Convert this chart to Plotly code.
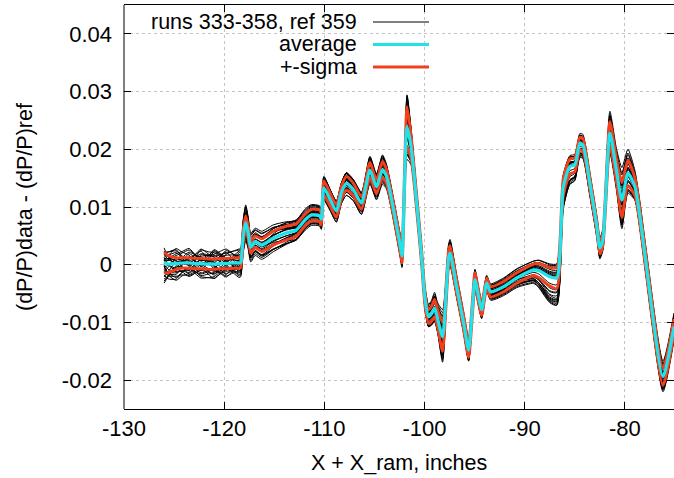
import numpy as np
import plotly.graph_objects as go

# Probe position, inches (X + X_ram)
x_in = [
    -126.0, -125.6, -124.8, -124.2, -123.5, -122.9, -122.3, -121.6, -121.0, -120.4,
    -119.8, -119.1, -118.5, -118.35,
    -118.1, -117.85, -117.6, -117.35, -116.9, -116.25, -115.1, -113.8, -112.8, -111.9,
    -111.3, -110.5, -110.3, -110.05, -109.4, -108.8, -108.3, -107.8, -107.1, -106.3,
    -105.45, -104.8, -104.2, -103.8, -102.4, -102.25, -101.75, -101.35, -100.8, -100.3,
    -99.95, -99.6, -99.3, -99.0, -98.7, -98.2, -97.6, -97.45, -96.8, -96.1,
    -95.6, -95.2, -94.97, -94.3, -93.8, -93.4, -92.1, -90.8, -89.1, -88.6,
    -87.5, -86.8, -86.15, -85.5, -85.0, -84.5, -84.2, -83.5, -82.8, -82.5,
    -82.2, -81.5, -80.85, -80.3, -79.7, -79.0, -78.5, -77.85, -76.2, -75.1,
]

# Average of (dP/P)data - (dP/P)ref over runs 333-358
avg_dpp = [
    0.0004, 0.0001, 0.0002, 0.0003, 0.0003, 0.0002, 0.0002, 0.0001, 0.0001, 0.0002,
    0.0002, 0.0003, 0.0003, 0.0004,
    0.0050, 0.0073, 0.0055, 0.0030, 0.0040, 0.0034, 0.0046, 0.0055, 0.0060, 0.0078,
    0.0086, 0.0085, 0.0079, 0.0133, 0.0112, 0.0093, 0.0125, 0.0141, 0.0130, 0.0107,
    0.0164, 0.0135, 0.0165, 0.0153, 0.0030, 0.0015, 0.0239, 0.0205, 0.0110, 0.0015,
    -0.0060, -0.0090, -0.0085, -0.0075, -0.0093, -0.0125, 0.0012, 0.0020, -0.0038, -0.0101,
    -0.0148, -0.0070, -0.0026, -0.0078, -0.0032, -0.0047, -0.0038, -0.0023, -0.0009, -0.0010,
    -0.0021, -0.0023, 0.0135, 0.0170, 0.0173, 0.0210, 0.0208, 0.0141, 0.0066, 0.0029,
    0.0043, 0.0228, 0.0164, 0.0112, 0.0159, 0.0135, 0.0083, -0.0003, -0.0194, -0.0107,
]

# Run-to-run standard deviation
sigma_dpp = [
    0.0018, 0.0015, 0.0010, 0.0009, 0.0009, 0.0009, 0.0009, 0.0009, 0.0009, 0.0009,
    0.0009, 0.0009, 0.0009, 0.0009,
    0.0011, 0.0012, 0.0011, 0.0010, 0.0010, 0.0011, 0.0012, 0.0012, 0.0011, 0.0010,
    0.0010, 0.0010, 0.0010, 0.0012, 0.0011, 0.0011, 0.0011, 0.0012, 0.0011, 0.0011,
    0.0013, 0.0012, 0.0014, 0.0012, 0.0012, 0.0012, 0.0035, 0.0020, 0.0013, 0.0012,
    0.0012, 0.0012, 0.0013, 0.0015, 0.0015, 0.0025, 0.0013, 0.0013, 0.0012, 0.0012,
    0.0013, 0.0012, 0.0012, 0.0010, 0.0009, 0.0009, 0.0009, 0.0009, 0.0010, 0.0012,
    0.0016, 0.0018, 0.0015, 0.0013, 0.0012, 0.0011, 0.0011, 0.0011, 0.0010, 0.0010,
    0.0010, 0.0020, 0.0020, 0.0030, 0.0022, 0.0015, 0.0014, 0.0014, 0.0015, 0.0013,
]

# Each run's departure from the average, in units of sigma, at these positions
run_anchor_x = [-126.0, -124.8, -123.5, -122.3, -121.0, -119.8, -118.5,
                -112.0, -105.0, -98.0, -91.0, -87.5, -82.0, -75.0]
run_offsets = [
    [0.3, -0.8, 1.8, 0.5, 2.6, 0.9, 1.2, 1.5, 1.6, 1.2, 1.4, 0.9, 1.5, 1.3],
    [-0.5, 0.6, -2.2, -0.9, -2.8, -1.0, -1.9, -1.4, -1.2, -1.5, -1.1, -2.6, -1.3, -1.6],
    [1.0, 2.2, 0.4, 1.9, 1.7, 0.2, 2.3, 0.8, 0.5, 0.9, 0.7, 0.4, 0.6, 0.9],
    [-1.2, -2.7, -0.8, -2.3, -1.6, -0.4, -2.5, -0.9, -0.7, -0.4, -0.6, -2.3, -0.8, -0.5],
    [0.0, 1.4, 2.5, 0.9, 0.6, 2.2, -0.8, 1.9, 1.1, 1.7, 0.2, 1.2, 1.9, 1.8],
    [-2.0, -0.4, -1.5, 0.8, -0.3, -2.1, 0.7, -1.8, -1.7, -1.1, -1.6, -2.7, -1.8, -1.2],
    [0.6, 1.9, -0.3, 2.6, 2.2, 0.4, 1.6, 0.3, 1.8, 0.4, 1.2, 0.8, 0.2, 0.4],
    [-0.7, -1.9, 1.2, -0.4, -2.1, 0.3, -1.4, -0.4, -0.3, -1.8, -0.2, -1.9, -0.4, -0.9],
    [1.4, -0.2, 0.9, 2.4, -0.9, 1.8, 2.7, 1.2, 0.2, 0.6, 1.7, 1.4, 1.1, 0.1],
    [-1.6, -0.9, -2.6, -1.1, -1.2, -2.6, -0.5, -1.1, -1.4, -0.8, -1.3, -2.4, -1.0, -1.9],
    [0.2, 2.6, 1.5, -0.6, 2.8, 1.1, 0.3, 0.6, 0.9, 1.4, 0.5, 0.2, 0.8, 1.0],
    [-0.3, -2.4, -1.0, -2.8, -2.4, -0.7, -2.2, -0.2, -1.0, -0.2, -0.9, -1.6, -0.1, -0.3],
    [0.8, 0.1, 2.1, 1.2, 0.2, 2.5, 1.0, 1.7, 1.3, 1.9, 1.0, 1.0, 1.6, 1.5],
    [-1.0, 0.9, -0.2, -1.8, -0.7, 0.6, -1.7, -1.5, -1.9, -1.3, -1.8, -2.8, -1.5, -1.4],
    [0.4, 1.1, 0.7, 2.8, 1.3, -0.5, 2.0, 0.1, 0.7, 0.1, 0.9, 0.6, 0.4, 0.6],
    [-0.2, -1.4, -1.8, 0.3, -0.4, -1.9, -1.1, -0.7, -0.5, -0.6, -0.4, -1.2, -0.6, -0.7],
    [1.1, 0.4, 0.1, 1.4, 1.9, 2.8, 0.8, 1.3, 1.5, 0.8, 1.3, 1.1, 1.3, 0.8],
    [-0.9, -2.2, -2.4, -1.3, -1.8, -0.9, -2.8, -1.2, -0.9, -1.6, -0.8, -2.2, -1.1, -1.1],
    [0.5, -1.2, 1.1, 0.0, 0.9, 1.6, 1.5, 0.5, 0.3, 0.2, 0.4, 0.3, 0.5, 0.2],
    [-1.4, 0.2, -0.5, -2.5, -2.7, -1.3, -0.2, -0.5, -0.2, -0.9, -0.1, -0.7, -0.3, -0.2],
    [0.1, 1.7, 2.8, 0.6, 1.0, -0.2, -0.3, 0.9, 1.9, 1.1, 1.8, 1.3, 1.0, 1.6],
    [-0.6, -1.6, -1.3, 1.0, 0.4, -1.5, -1.0, -1.0, -1.5, -1.2, -1.4, -2.0, -1.6, -0.8],
    [0.9, 2.4, -0.6, 1.7, 1.5, 2.0, 2.5, 0.7, 0.8, 1.5, 0.6, 0.5, 0.7, 1.2],
    [-1.8, -0.6, -1.1, -2.0, -1.0, -2.4, -1.5, -1.6, -0.6, -0.3, -1.0, -2.5, -0.9, -1.3],
    [0.2, 0.8, 0.3, -1.4, 2.4, 0.7, 0.5, 0.4, 0.4, 0.7, 0.3, 0.1, 0.3, 0.5],
    [-0.4, -2.9, -2.0, -0.2, -1.4, -0.8, -0.7, -0.3, -1.1, -0.7, -0.7, -1.5, -0.2, -0.6],
]

x_tick_vals = [-130, -120, -110, -100, -90, -80]
x_tick_text = ["-130", "-120", "-110", "-100", "-90", "-80"]
y_tick_vals = [-0.02, -0.01, 0, 0.01, 0.02, 0.03, 0.04]
y_tick_text = ["-0.02", "-0.01", "0", "0.01", "0.02", "0.03", "0.04"]

legend_labels = ["runs 333-358, ref 359", "average", "+-sigma"]
x_title = "X + X_ram, inches"
y_title = "(dP/P)data - (dP/P)ref"

RUN_COLOR = "black"
AVG_COLOR = "#1ee3ea"
SIG_COLOR = "#f2401e"
FONT = "Liberation Sans, Arial, Helvetica, sans-serif"
SMOOTH = 0.6

xs = np.array(x_in)
avg = np.array(avg_dpp)
sig = np.array(sigma_dpp)

fig = go.Figure()

# individual runs
for row in run_offsets:
    k = np.interp(xs, run_anchor_x, row)
    fig.add_trace(go.Scatter(x=xs, y=avg + k * sig, mode="lines",
                             line=dict(color=RUN_COLOR, width=1.0,
                                       shape="spline", smoothing=SMOOTH),
                             showlegend=False, hoverinfo="skip"))

# +-sigma band edges
for sgn in (1, -1):
    fig.add_trace(go.Scatter(x=xs, y=avg + sgn * sig, mode="lines",
                             line=dict(color=SIG_COLOR, width=2.9,
                                       shape="spline", smoothing=SMOOTH),
                             showlegend=False))

# average
fig.add_trace(go.Scatter(x=xs, y=avg, mode="lines",
                         line=dict(color=AVG_COLOR, width=3.2,
                                   shape="spline", smoothing=SMOOTH),
                         showlegend=False))

W, H = 674, 478
ML, MR, MT, MB = 124, 0, 5, 69
PW, PH = W - ML - MR, H - MT - MB


def px_x(p):
    return (p - ML) / PW


def px_y(p):
    return (H - MB - p) / PH


grid = dict(showgrid=True, gridcolor="#c4c4c4", griddash="dot", gridwidth=1)

fig.update_xaxes(range=[-130, -75.1], tickvals=x_tick_vals, ticktext=x_tick_text,
                 ticks="inside", ticklen=7, tickcolor="black", tickwidth=1,
                 showline=True, linecolor="black", linewidth=1, mirror="ticks",
                 zeroline=False, ticklabelstandoff=0,
                 tickfont=dict(family=FONT, size=22, color="black"), **grid)
fig.update_yaxes(range=[-0.025, 0.045], tickvals=y_tick_vals, ticktext=y_tick_text,
                 ticks="inside", ticklen=7, tickcolor="black", tickwidth=1,
                 showline=False, mirror="ticks",
                 zeroline=False, ticklabelstandoff=11,
                 tickfont=dict(family=FONT, size=22, color="black"), **grid)

shapes = [
    # left border
    dict(type="line", xref="paper", yref="paper", x0=0, x1=0, y0=0, y1=1,
         line=dict(color="black", width=1)),
    # key background
    dict(type="rect", xref="paper", yref="paper", x0=0.002, x1=px_x(443),
         y0=px_y(79), y1=0.997, fillcolor="white", line=dict(width=0), layer="between"),
]
annotations = [
    dict(text=x_title, xref="paper", yref="paper", x=0.5, y=px_y(463),
         xanchor="center", yanchor="middle", showarrow=False,
         font=dict(family=FONT, size=21.5, color="black")),
    dict(text=y_title, xref="paper", yref="paper", x=px_x(25), y=0.5, textangle=-90,
         xanchor="center", yanchor="middle", showarrow=False,
         font=dict(family=FONT, size=21.5, color="black")),
]
key_rows = [22, 44.5, 67]
key_styles = [(RUN_COLOR, 1.2), (AVG_COLOR, 3.2), (SIG_COLOR, 2.9)]
for label, py, (col, w) in zip(legend_labels, key_rows, key_styles):
    annotations.append(dict(text=label, xref="paper", yref="paper", x=px_x(359), y=px_y(py),
                            xanchor="right", yanchor="middle", showarrow=False,
                            font=dict(family=FONT, size=21.5, color="black")))
    shapes.append(dict(type="line", xref="paper", yref="paper", x0=px_x(373), x1=px_x(429),
                       y0=px_y(py), y1=px_y(py), line=dict(color=col, width=w)))

fig.update_layout(width=W, height=H, margin=dict(l=ML, r=MR, t=MT, b=MB),
                  plot_bgcolor="white", paper_bgcolor="white",
                  shapes=shapes, annotations=annotations, showlegend=False)

fig.write_html("out.html")
